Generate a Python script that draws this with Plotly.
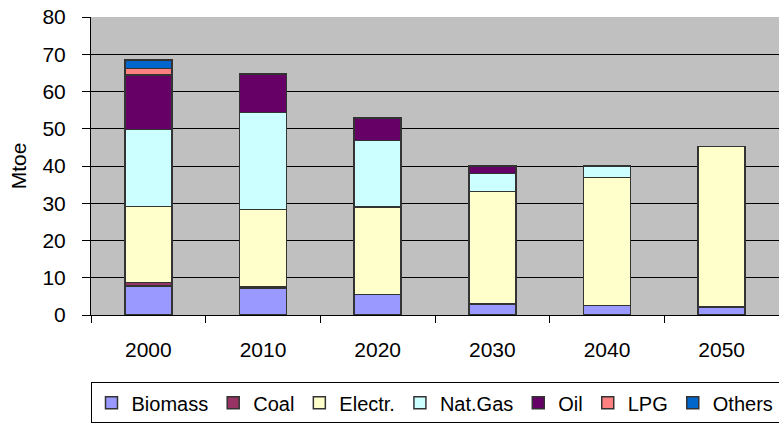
import plotly.graph_objects as go

years = ["2000", "2010", "2020", "2030", "2040", "2050"]

biomass = [7.8, 7.3, 5.5, 2.9, 2.6, 2.2]
coal = [0.9, 0.4, 0.0, 0.0, 0.0, 0.0]
electr = [20.4, 20.6, 23.5, 30.3, 34.3, 43.0]
nat_gas = [20.7, 26.0, 17.8, 4.8, 3.1, 0.0]
oil = [14.6, 10.4, 6.1, 2.0, 0.0, 0.0]
lpg = [1.8, 0.0, 0.0, 0.0, 0.0, 0.0]
others = [2.3, 0.0, 0.0, 0.0, 0.0, 0.0]

series = [
    ("Biomass", biomass, "#9999FF"),
    ("Coal", coal, "#993366"),
    ("Electr.", electr, "#FFFFCC"),
    ("Nat.Gas", nat_gas, "#CCFFFF"),
    ("Oil", oil, "#660066"),
    ("LPG", lpg, "#FF8080"),
    ("Others", others, "#0066CC"),
]

fig = go.Figure()
for name, vals, color in series:
    fig.add_trace(go.Bar(
        name=name, x=years, y=vals,
        marker=dict(color=color, line=dict(color="#333333", width=1.5)),
        width=0.41,
    ))

font = "Liberation Sans, Arial, sans-serif"
fig.update_layout(
    barmode="stack",
    width=779, height=425,
    margin=dict(l=91, r=0, t=17, b=110, autoexpand=False),
    paper_bgcolor="white",
    plot_bgcolor="#C0C0C0",
    font=dict(family=font, size=21, color="black"),
    showlegend=True,
    legend=dict(
        orientation="h", x=0.5, xanchor="center", y=-0.226, yanchor="top",
        bordercolor="black", borderwidth=1, font=dict(size=20),
        itemwidth=30, traceorder="normal",
    ),
    xaxis=dict(
        type="category", showline=True, linecolor="black", linewidth=1,
        ticks="outside", ticklen=7, tickcolor="black", tickson="boundaries",
        showgrid=False, tickfont=dict(size=21), ticklabelstandoff=16,
        automargin=False,
    ),
    yaxis=dict(
        range=[0, 80], dtick=10, showline=True, linecolor="black", linewidth=1,
        ticks="outside", ticklen=8, tickcolor="black",
        showgrid=True, gridcolor="#000000", gridwidth=1,
        zeroline=False, tickfont=dict(size=21), ticklabelstandoff=12,
        title=dict(text="Mtoe", font=dict(size=21), standoff=10),
        automargin=False,
    ),
)

fig.write_html("out.html")
